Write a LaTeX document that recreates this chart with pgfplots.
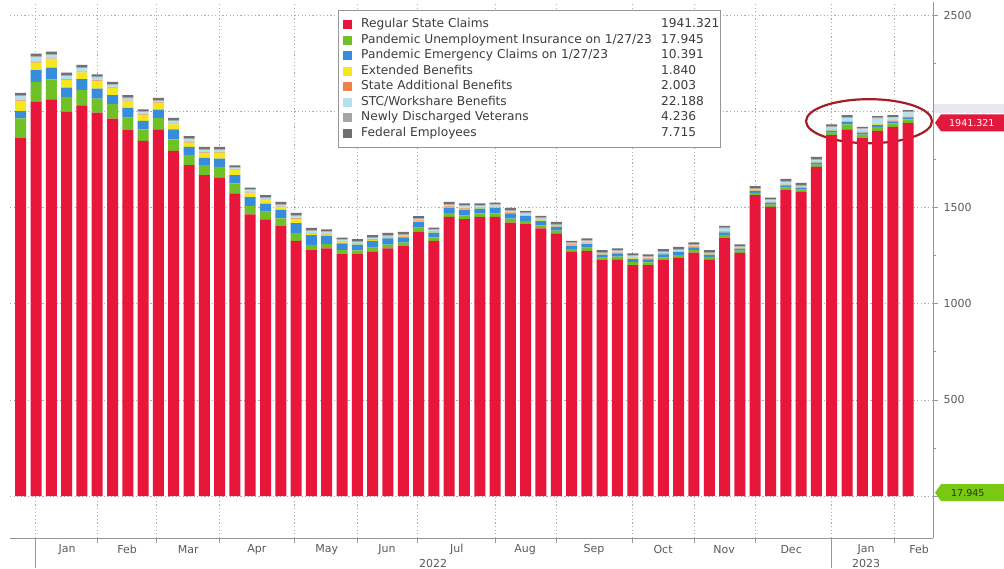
\documentclass[border=0pt]{standalone}
\usepackage{fontspec}
\setmainfont{DejaVu Sans}
\usepackage{pgfplots}
\usepackage{pgfplotstable}
\pgfplotsset{compat=1.18}

% series colours
\definecolor{cRed}{RGB}{232,22,58}
\definecolor{cGreen}{RGB}{112,192,40}
\definecolor{cBlue}{RGB}{55,140,220}
\definecolor{cYellow}{RGB}{246,230,30}
\definecolor{cOrange}{RGB}{240,130,70}
\definecolor{cLtBlue}{RGB}{180,225,236}
\definecolor{cVet}{RGB}{165,165,165}
\definecolor{cFed}{RGB}{110,110,115}
% chart furniture
\definecolor{axgray}{RGB}{150,150,150}
\definecolor{gridgray}{RGB}{170,170,170}
\definecolor{labgray}{RGB}{90,90,90}
\definecolor{legtext}{RGB}{60,60,60}
\definecolor{tagRed}{RGB}{225,25,60}
\definecolor{tagGreen}{RGB}{122,200,20}
\definecolor{tagGreenText}{RGB}{30,60,0}
\definecolor{ellRed}{RGB}{165,28,40}
\definecolor{bandgray}{RGB}{232,232,240}

\tikzset{monthlab/.style={font=\fontsize{11}{13}\selectfont, text=labgray, yshift=-11.5pt},
         yearlab/.style={font=\fontsize{11}{13}\selectfont, text=labgray, yshift=-25pt},
         legtxt/.style={anchor=mid west, inner sep=0pt, text=legtext, font=\fontsize{12.2}{14}\selectfont},
         tagtxt/.style={anchor=west, inner sep=0pt, font=\fontsize{9.5}{11}\selectfont}}

% weekly continuing claims, all programs (thousands)
\pgfplotstableread{
i red pua peuc eb sab stc vet fed
0 1865 100 38 52 3 22 5 12
1 2050 104 61 40 4 26 5 12
2 2063 104 62 43 4 19 5 12
3 1998 78 49 38 4 19 5 12
4 2032 80 57 35 4 18 5 12
5 1995 73 52 38 4 15 5 12
6 1964 75 47 38 3 10 5 12
7 1903 66 50 35 3 11 5 12
8 1848 59 45 31 3 10 5 10
9 1908 59 43 35 3 8 5 10
10 1796 59 52 26 3 16 5 10
11 1721 52 43 23 3 15 5 10
12 1669 52 38 26 3 13 5 10
13 1655 57 43 31 3 12 5 10
14 1574 52 43 26 3 7 5 10
15 1465 45 45 20 3 12 5 10
16 1439 40 42 17 3 9 5 10
17 1404 40 45 14 3 9 5 10
18 1328 40 52 21 3 14 5 10
19 1279 26 52 8 3 12 5 10
20 1288 24 42 6 3 9 5 10
21 1258 22 35 5 3 7 5 10
22 1258 20 30 5 3 5 5 10
23 1270 22 35 5 3 7 5 10
24 1288 20 32 5 3 6 5 10
25 1300 18 28 4 3 6 5 10
26 1374 22 30 5 3 7 5 10
27 1328 18 25 4 3 4 5 10
28 1452 20 28 4 3 8 5 10
29 1440 20 30 4 3 10 5 10
30 1452 18 25 3 3 6 5 10
31 1452 18 28 3 3 8 5 10
32 1423 20 27 3 3 8 5 10
33 1414 18 24 3 3 7 5 10
34 1392 16 23 3 3 6 5 10
35 1366 15 20 3 3 4 5 10
36 1270 15 18 3 3 4 5 10
37 1276 16 20 3 3 7 5 10
38 1227 14 15 2 3 3 5 10
39 1231 15 16 2 3 6 5 10
40 1201 16 17 2 3 8 5 10
41 1201 15 15 2 3 6 5 10
42 1227 15 15 2 3 7 5 10
43 1239 15 15 2 3 7 5 10
44 1267 14 13 2 3 6 5 10
45 1231 13 12 2 3 3 5 10
46 1345 14 13 2 3 14 5 10
47 1265 12 10 2 2 3 5 10
48 1565 12 10 2 2 6 5 10
49 1504 12 10 2 2 8 5 10
50 1591 14 11 2 2 15 5 10
51 1582 12 10 2 2 6 5 10
52 1712 12 10 2 2 11 5 10
53 1877 14 10 2 2 14 5 9
54 1907 26 12 2 2 18 5 9
55 1865 15 10 2 2 13 5 8
56 1900 20 11 2 2 28 5 8
57 1920 19 10 2 2 15 5 8
58 1941.321 17.945 10.391 1.840 2.003 22.188 4.236 7.715
}\claims

\begin{document}
\begin{tikzpicture}
\useasboundingbox (0pt,0pt) rectangle (1004pt,568pt);
\begin{axis}[
  at={(10pt,30pt)}, anchor=south west,
  scale only axis, width=923pt, height=536pt,
  xmin=-0.7, xmax=59.62, ymin=-218, ymax=2570,
  ybar stacked, bar width=11pt,
  axis x line*=bottom, axis y line*=right,
  axis line style={draw=axgray, line width=0.9pt},
  xtick={0.93,4.99,8.9,12.96,17.9,22.0,25.9,31.0,35.0,40.0,44.0,48.0,53.0,57.1},
  xticklabels={},
  ytick={0,500,1000,1500,2000,2500},
  yticklabels={,500,1000,1500,,2500},
  minor y tick num=1,
  tick align=outside,
  major tick length=5pt, minor tick length=3pt,
  tick style={draw=axgray, line width=0.8pt},
  xmajorgrids, ymajorgrids,
  major grid style={draw=gridgray, line width=0.8pt, dash pattern=on 1.2pt off 2.4pt},
  yticklabel style={font=\fontsize{11}{13}\selectfont, text=labgray, xshift=2pt},
  clip=false,
]
\addplot[fill=cRed, draw=none] table[x=i, y=red] {\claims};
\addplot[fill=cGreen, draw=none] table[x=i, y=pua] {\claims};
\addplot[fill=cBlue, draw=none] table[x=i, y=peuc] {\claims};
\addplot[fill=cYellow, draw=none] table[x=i, y=eb] {\claims};
\addplot[fill=cOrange, draw=none] table[x=i, y=sab] {\claims};
\addplot[fill=cLtBlue, draw=none] table[x=i, y=stc] {\claims};
\addplot[fill=cVet, draw=none] table[x=i, y=vet] {\claims};
\addplot[fill=cFed, draw=none] table[x=i, y=fed] {\claims};

% highlight of the latest weeks
\draw[ellRed, line width=2.2pt] (axis cs:55.44,1950) ellipse [x radius=63pt, y radius=22pt];

% anchors for the last-value tags
\coordinate (redtag) at (axis cs:59.62,1941.321);
\coordinate (greentag) at (axis cs:59.62,17.945);
\coordinate (bandlo) at (axis cs:59.62,1995);
\coordinate (bandhi) at (axis cs:59.62,2042);

% month names
\node[monthlab] at (axis cs:3.03,-218) {Jan};
\node[monthlab] at (axis cs:6.95,-218) {Feb};
\node[monthlab] at (axis cs:10.95,-218) {Mar};
\node[monthlab] at (axis cs:15.44,-218) {Apr};
\node[monthlab] at (axis cs:20.0,-218) {May};
\node[monthlab] at (axis cs:23.94,-218) {Jun};
\node[monthlab] at (axis cs:28.5,-218) {Jul};
\node[monthlab] at (axis cs:32.96,-218) {Aug};
\node[monthlab] at (axis cs:37.47,-218) {Sep};
\node[monthlab] at (axis cs:41.98,-218) {Oct};
\node[monthlab] at (axis cs:45.97,-218) {Nov};
\node[monthlab] at (axis cs:50.35,-218) {Dec};
\node[monthlab] at (axis cs:55.25,-218) {Jan};
\node[monthlab] at (axis cs:58.71,-218) {Feb};
% years
\node[yearlab] at (axis cs:26.95,-218) {2022};
\node[yearlab] at (axis cs:55.25,-218) {2023};
\draw[axgray, line width=0.8pt] ([yshift=-4pt]axis cs:0.93,-218) -- ([yshift=-30pt]axis cs:0.93,-218);
\draw[axgray, line width=0.8pt] ([yshift=-4pt]axis cs:53.0,-218) -- ([yshift=-30pt]axis cs:53.0,-218);
\end{axis}

% last-value tags
\fill[bandgray] ([xshift=1pt]bandlo) rectangle ([xshift=80pt]bandhi);
\fill[tagRed] ([xshift=2pt]redtag) -- ++(6pt,8.5pt) -- ++(80pt,0pt) -- ++(0pt,-17pt) -- ++(-80pt,0pt) -- cycle;
\node[tagtxt, text=white] at ([xshift=16pt]redtag) {1941.321};
\fill[tagGreen] ([xshift=2pt]greentag) -- ++(6pt,8.5pt) -- ++(80pt,0pt) -- ++(0pt,-17pt) -- ++(-80pt,0pt) -- cycle;
\node[tagtxt, text=tagGreenText] at ([xshift=18pt]greentag) {17.945};

% legend with latest values
\draw[draw=axgray, fill=white, line width=0.9pt] (338pt,421pt) rectangle (720pt,558pt);
\fill[cRed] (343pt,538.5pt) rectangle (352pt,547.5pt);
\node[legtxt] at (361pt,543pt) {Regular State Claims};
\node[legtxt] at (661pt,543pt) {1941.321};
\fill[cGreen] (343pt,523pt) rectangle (352pt,532pt);
\node[legtxt] at (361pt,527.5pt) {Pandemic Unemployment Insurance on 1/27/23};
\node[legtxt] at (661pt,527.5pt) {17.945};
\fill[cBlue] (343pt,507.5pt) rectangle (352pt,516.5pt);
\node[legtxt] at (361pt,512pt) {Pandemic Emergency Claims on 1/27/23};
\node[legtxt] at (661pt,512pt) {10.391};
\fill[cYellow] (343pt,492pt) rectangle (352pt,501pt);
\node[legtxt] at (361pt,496.5pt) {Extended Benefits};
\node[legtxt] at (661pt,496.5pt) {1.840};
\fill[cOrange] (343pt,476.5pt) rectangle (352pt,485.5pt);
\node[legtxt] at (361pt,481pt) {State Additional Benefits};
\node[legtxt] at (661pt,481pt) {2.003};
\fill[cLtBlue] (343pt,461pt) rectangle (352pt,470pt);
\node[legtxt] at (361pt,465.5pt) {STC/Workshare Benefits};
\node[legtxt] at (661pt,465.5pt) {22.188};
\fill[cVet] (343pt,445.5pt) rectangle (352pt,454.5pt);
\node[legtxt] at (361pt,450pt) {Newly Discharged Veterans};
\node[legtxt] at (661pt,450pt) {4.236};
\fill[cFed] (343pt,430pt) rectangle (352pt,439pt);
\node[legtxt] at (361pt,434.5pt) {Federal Employees};
\node[legtxt] at (661pt,434.5pt) {7.715};
\end{tikzpicture}
\end{document}
